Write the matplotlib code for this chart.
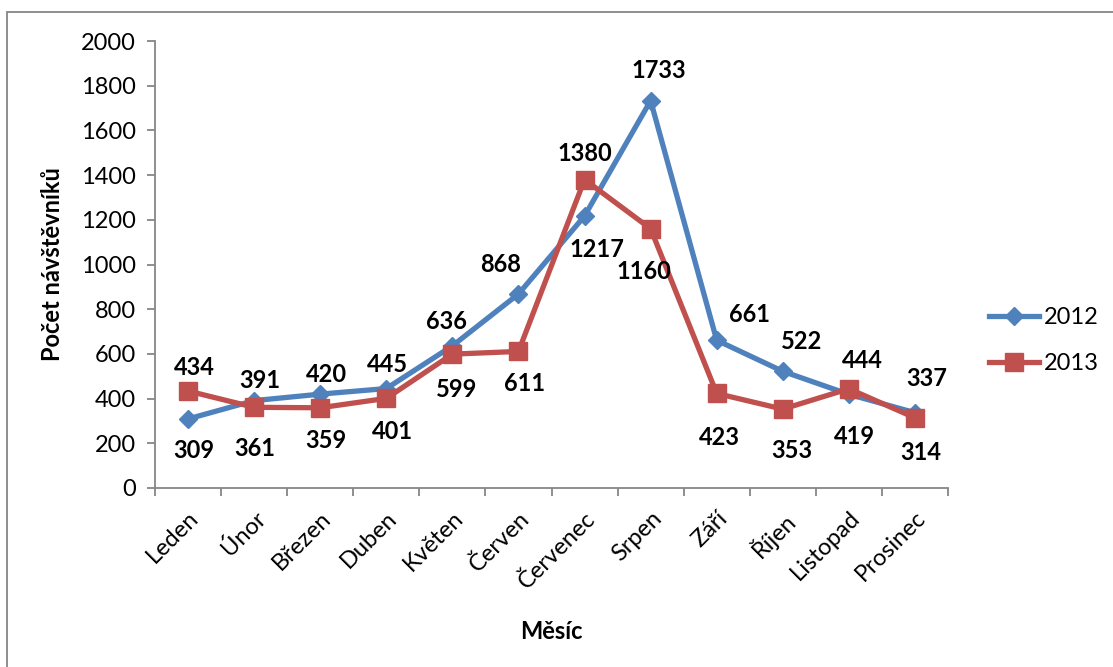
import matplotlib.pyplot as plt
from matplotlib.patches import Rectangle

plt.rcParams['font.family'] = ['Lato', 'DejaVu Sans']

months = ['Leden', 'Únor', 'Březen', 'Duben', 'Květen', 'Červen',
          'Červenec', 'Srpen', 'Září', 'Říjen', 'Listopad', 'Prosinec']
visits_2012 = [309, 391, 420, 445, 636, 868, 1217, 1733, 661, 522, 419, 337]
visits_2013 = [434, 361, 359, 401, 599, 611, 1380, 1160, 423, 353, 444, 314]

# label offsets in pixels (dx, dy) relative to each point
offs_2012 = [(6, -32), (6, 20), (6, 20), (1, 24), (-6, 24), (-18, 30),
             (12, -33), (8, 30), (33, 26), (19, 30), (6, -42), (12, 34)]
offs_2013 = [(6, 24), (1, -41), (6, -33), (6, -33), (4, -35), (6, -32),
             (0, 26), (-7, -43), (3, -44), (9, -41), (14, 28), (6, -35)]

blue = '#4F81BD'
red = '#C0504D'
grey = '#868686'
fs = 17

fig = plt.figure(figsize=(11.13, 6.67), dpi=100)
fig.patches.append(Rectangle((7 / 1113, -0.1), 1.2, 1 - 12 / 667 + 0.1,
                             transform=fig.transFigure, fill=False,
                             edgecolor=grey, linewidth=1.3))

ax = fig.add_axes([155 / 1113, 1 - 488 / 667, (948 - 155) / 1113, (488 - 41) / 667])
x = list(range(len(months)))

ax.plot(x, visits_2012, color=blue, lw=3.8, marker='D', ms=9.5,
        mec=blue, label='2012', zorder=3)
ax.plot(x, visits_2013, color=red, lw=3.8, marker='s', ms=13.5,
        mec=red, label='2013', zorder=4)

for vals, offs in ((visits_2012, offs_2012), (visits_2013, offs_2013)):
    for i, v in enumerate(vals):
        ax.annotate(str(v), (i, v), xytext=offs[i], textcoords='offset pixels',
                    ha='center', va='center', fontsize=fs, fontweight='bold',
                    zorder=5)

ax.set_xlim(-0.5, len(months) - 0.5)
ax.set_ylim(0, 2000)
ax.set_yticks(range(0, 2001, 200))
ax.set_xticks(x)
ax.set_xticks([i - 0.5 for i in range(len(months) + 1)], minor=True)
ax.set_xticklabels(months, rotation=45, ha='right', rotation_mode='anchor')
ax.tick_params(axis='x', which='major', length=0, pad=14, labelsize=fs)
ax.tick_params(axis='x', which='minor', length=6, width=1.3, color=grey)
ax.tick_params(axis='y', length=6, width=1.3, color=grey, labelsize=fs, pad=8)

for s in ('top', 'right'):
    ax.spines[s].set_visible(False)
for s in ('left', 'bottom'):
    ax.spines[s].set_color(grey)
    ax.spines[s].set_linewidth(1.3)

ax.set_ylabel('Počet návštěvníků', fontsize=fs, fontweight='bold', labelpad=12)
ax.set_xlabel('Měsíc', fontsize=fs, fontweight='bold', labelpad=20)

ax.legend(loc='center left', bbox_to_anchor=(1.025, 0.33), frameon=False,
          fontsize=fs, handlelength=2.1, handletextpad=0.2, labelspacing=1.05)

fig.savefig('out.png', dpi=100)
